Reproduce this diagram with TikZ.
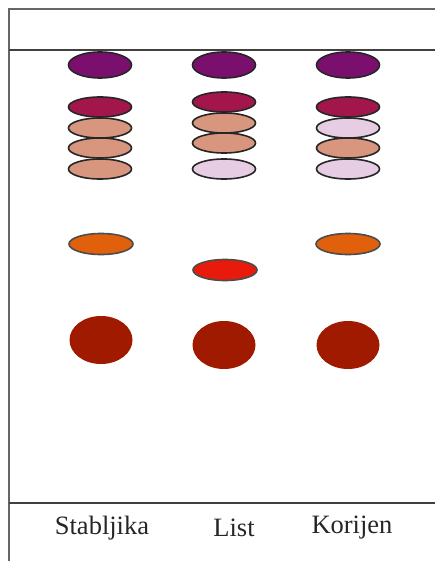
\documentclass[tikz,border=0pt]{standalone}
\usepackage{fontspec}
\setmainfont{Liberation Serif}
\usetikzlibrary{shapes.geometric}
\definecolor{spotviolet}{HTML}{7A0F6E}
\definecolor{spotcrimson}{HTML}{A3164C}
\definecolor{spottan}{HTML}{D8967E}
\definecolor{spotlilac}{HTML}{E6CDE4}
\definecolor{spotorange}{HTML}{E0600C}
\definecolor{spotred}{HTML}{E81A0C}
\definecolor{spotdark}{HTML}{A01A00}

\begin{document}
\begin{tikzpicture}[x=1pt,y=-1pt,
  spot/.style={ellipse,draw=black!85,line width=1.6pt,minimum width=63pt,minimum height=20pt,inner sep=0pt},
  blob/.style={ellipse,fill=spotdark,minimum width=63pt,minimum height=48pt,inner sep=0pt},
  lane/.style={font=\fontsize{26.5}{28}\selectfont,text=black!85}]
  \useasboundingbox (0,0) rectangle (435,561);
  % plate and lines
  \draw[black!60,line width=1.3pt] (9,561)--(9,9)--(435,9);
  \draw[black!75,line width=1.3pt] (9,50)--(435,50);
  \draw[black!75,line width=1.3pt] (9,503)--(435,503);
  % upper spots
  \foreach \n/\x in {s/100,l/224,k/348}{
    \node[spot,fill=spotviolet,minimum height=26pt] (\n0) at (\x,65) {};}
  \foreach \n/\x/\y/\c in {s1/100/107/spotcrimson,s2/100/128/spottan,s3/100/148/spottan,s4/100/169/spottan,
                           l1/224/102/spotcrimson,l2/224/123/spottan,l3/224/143/spottan,l4/224/169/spotlilac,
                           k1/348/107/spotcrimson,k2/348/128/spotlilac,k3/348/148/spottan,k4/348/169/spotlilac}{
    \node[spot,fill=\c] (\n) at (\x,\y) {};}
  % middle spots
  \node[spot,fill=spotorange,draw=black!70,minimum width=64pt,minimum height=21pt] (s5) at (101,244) {};
  \node[spot,fill=spotred,draw=black!70,minimum width=64pt,minimum height=21pt] (l5) at (225,270) {};
  \node[spot,fill=spotorange,draw=black!70,minimum width=64pt,minimum height=21pt] (k5) at (348,244) {};
  % start spots
  \node[blob] (s6) at (101,340) {};
  \node[blob] (l6) at (224,345) {};
  \node[blob] (k6) at (348,345) {};
  % lane names
  \node[lane] (stab) at (102,528) {Stabljika};
  \node[lane] (list) at (234,528) {List};
  \node[lane] (kor) at (352,528) {Korijen};
\end{tikzpicture}
\end{document}
